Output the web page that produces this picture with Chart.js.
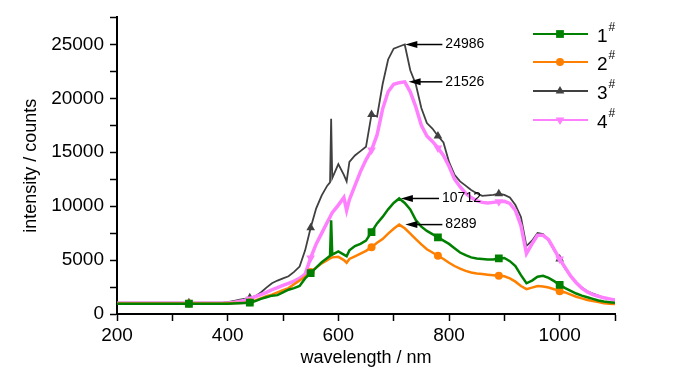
<!DOCTYPE html>
<html>
<head>
<meta charset="utf-8">
<script src="https://cdn.jsdelivr.net/npm/chart.js@4.4.0/dist/chart.umd.min.js"></script>
<style>
  html, body { margin: 0; padding: 0; background: #fff; }
</style>
</head>
<body>
<canvas id="spectrum" width="700" height="373"></canvas>
<script>
// wavelength grid (nm) and intensities (counts)
const wavelengths = [
  200, 210, 220, 230, 240, 250, 260, 270, 280, 290,
  300, 310, 320, 330, 340, 350, 360, 370, 380, 390,
  400, 410, 420, 430, 440, 450, 460, 470, 480, 490,
  500, 510, 520, 530, 540, 550, 560, 570, 580, 585,
  587, 589, 600, 610, 615, 620, 630, 640, 650, 660,
  670, 680, 690, 700, 710, 720, 730, 740, 750, 760,
  770, 780, 790, 800, 810, 820, 830, 840, 850, 860,
  870, 880, 890, 900, 910, 920, 930, 940, 950, 960,
  970, 980, 990, 1000, 1010, 1020, 1030, 1040, 1050, 1060,
  1070, 1080, 1090, 1100
];
const sample1 = [
  950, 950, 950, 950, 950, 950, 950, 950, 950, 950,
  950, 950, 950, 950, 950, 950, 950, 950, 950, 950,
  960, 980, 1000, 1020, 1050, 1200, 1400, 1550, 1700, 1750,
  2000, 2250, 2400, 2600, 3300, 3800, 4300, 4800, 5200, 5400,
  8700, 5500, 5800, 5500, 5350, 5900, 6300, 6500, 6800, 7600,
  8400, 9000, 9700, 10300, 10712, 10300, 9700, 8700, 8100, 7700,
  7400, 7100, 6800, 6500, 6100, 5700, 5450, 5250, 5150, 5100,
  5050, 5050, 5150, 5200, 4900, 4450, 3600, 2850, 3100, 3450,
  3550, 3350, 3050, 2700, 2400, 2150, 1900, 1700, 1550, 1400,
  1250, 1150, 1100, 1050
];
const sample2 = [
  980, 980, 980, 980, 980, 980, 980, 980, 980, 980,
  980, 980, 980, 980, 980, 980, 980, 980, 980, 980,
  1000, 1010, 1020, 1040, 1100, 1250, 1450, 1650, 1800, 2000,
  2200, 2400, 2750, 3100, 3450, 3900, 4300, 4700, 5000, 5150,
  5200, 5250, 5300, 5000, 4750, 5100, 5350, 5600, 5850, 6200,
  6600, 6950, 7450, 7900, 8289, 7950, 7450, 6950, 6450, 6000,
  5700, 5400, 5100, 4750, 4450, 4200, 4000, 3850, 3750, 3700,
  3650, 3600, 3550, 3500, 3300, 3000, 2600, 2300, 2450, 2600,
  2550, 2450, 2300, 2100, 2000, 1800, 1600, 1450, 1300, 1200,
  1100, 1000, 950, 920
];
const sample3 = [
  1050, 1050, 1050, 1050, 1050, 1050, 1050, 1050, 1050, 1050,
  1050, 1050, 1050, 1050, 1050, 1050, 1050, 1050, 1050, 1050,
  1100, 1200, 1300, 1400, 1500, 1650, 2000, 2450, 2850, 3100,
  3300, 3500, 3900, 4400, 5900, 8000, 9800, 11000, 11900, 12200,
  18100, 12600, 13900, 12900, 12300, 14100, 14700, 15100, 15500, 18500,
  18300, 21300, 23600, 24600, 24800, 24986, 22600, 21300, 19100, 17700,
  17200, 16500, 15900, 14100, 12900, 12300, 11900, 11500, 11200, 10950,
  11000, 11050, 11150, 11050, 10800, 10100, 9000, 6300, 6800, 7500,
  7400, 6800, 5900, 5100, 4200, 3500, 2900, 2450, 2100, 1900,
  1700, 1500, 1400, 1300
];
const sample4 = [
  1000, 1000, 1000, 1000, 1000, 1000, 1000, 1000, 1000, 1000,
  1000, 1000, 1000, 1000, 1000, 1000, 1000, 1000, 1000, 1000,
  1020, 1060, 1150, 1250, 1400, 1600, 1800, 2000, 2250, 2450,
  2650, 2850, 3050, 3300, 3700, 5200, 6500, 7500, 8500, 9000,
  9200, 9400, 10100, 10800, 9600, 10600, 11900, 13200, 14300, 15200,
  16600, 19000, 20600, 21300, 21450, 21526, 20600, 19200, 17500, 16500,
  16000, 15400, 14700, 13700, 12500, 11800, 11200, 10800, 10500, 10350,
  10300, 10350, 10400, 10450, 10250, 9600, 8200, 5600, 6500, 7300,
  7300, 6900, 6000, 5100, 4300, 3500, 2900, 2400, 2050, 1800,
  1650, 1500, 1400, 1300
];
const sampleNames = ['1', '2', '3', '4'];
const markerNm = [330, 440, 550, 660, 780, 890, 1000];

// peak labels: value, arrow tip and tail wavelength
const peakValues = [24986, 21526, 10712, 8289];
const peakTipNm = [721, 727, 713, 721];
const peakTailNm = [788, 788, 782, 788];

const FONT = '"Liberation Sans", Arial, sans-serif';

const styles = [
  { color: '#008000', point: 'rect', radius: 5.5, rotation: 0, width: 2.5, order: 1 },
  { color: '#ff8000', point: 'circle', radius: 4, rotation: 0, width: 2.5, order: 2 },
  { color: '#404040', point: 'triangle', radius: 5, rotation: 0, width: 1.8, order: 4 },
  { color: '#ff80ff', point: 'triangle', radius: 5, rotation: 180, width: 3.5, order: 3 }
];
const allSeries = [sample1, sample2, sample3, sample4];

const datasets = allSeries.map((vals, i) => ({
  label: sampleNames[i] + '#',
  data: wavelengths.map((w, j) => ({ x: w, y: vals[j] })),
  borderColor: styles[i].color,
  backgroundColor: styles[i].color,
  borderWidth: styles[i].width,
  pointStyle: styles[i].point,
  rotation: styles[i].rotation,
  pointRadius: wavelengths.map(w => markerNm.includes(w) ? styles[i].radius : 0),
  pointBorderWidth: 0,
  pointHoverRadius: 0,
  tension: 0,
  order: styles[i].order
}));

const peakArrows = {
  id: 'peakArrows',
  afterDatasetsDraw(chart) {
    const { ctx, scales: { x, y } } = chart;
    ctx.save();
    ctx.fillStyle = '#000';
    ctx.strokeStyle = '#000';
    ctx.lineWidth = 1.5;
    ctx.font = '14px ' + FONT;
    ctx.textBaseline = 'middle';
    peakValues.forEach((v, i) => {
      const py = y.getPixelForValue(v);
      const tip = x.getPixelForValue(peakTipNm[i]);
      const tail = x.getPixelForValue(peakTailNm[i]);
      ctx.beginPath();
      ctx.moveTo(tail, py);
      ctx.lineTo(tip + 8, py);
      ctx.stroke();
      ctx.beginPath();
      ctx.moveTo(tip, py);
      ctx.lineTo(tip + 12, py - 3.5);
      ctx.lineTo(tip + 12, py + 3.5);
      ctx.closePath();
      ctx.fill();
      ctx.fillText(String(v), tail + 3, py);
    });
    ctx.restore();
  }
};

// legend with superscript '#'
const sampleLegend = {
  id: 'sampleLegend',
  afterDraw(chart) {
    const ctx = chart.ctx;
    const rowY = [34, 62, 91, 120];
    ctx.save();
    sampleNames.forEach((name, i) => {
      const s = styles[i];
      const y = rowY[i];
      ctx.strokeStyle = s.color;
      ctx.fillStyle = s.color;
      ctx.lineWidth = 2;
      ctx.beginPath();
      ctx.moveTo(533, y);
      ctx.lineTo(588, y);
      ctx.stroke();
      Chart.helpers.drawPoint(ctx, { pointStyle: s.point, radius: s.radius, rotation: s.rotation, borderWidth: 0 }, 560, y);
      ctx.fillStyle = '#000';
      ctx.textBaseline = 'alphabetic';
      ctx.font = '19px ' + FONT;
      ctx.fillText(name, 597, y + 8);
      const w = ctx.measureText(name).width;
      ctx.font = '12px ' + FONT;
      ctx.fillText('#', 597 + w + 1, y - 3);
    });
    ctx.restore();
  }
};

new Chart(document.getElementById('spectrum'), {
  type: 'line',
  data: { datasets },
  options: {
    responsive: false,
    animation: false,
    devicePixelRatio: 1,
    layout: { padding: { top: 15, right: 85, left: 0, bottom: 0 } },
    plugins: { legend: { display: false }, tooltip: { enabled: false } },
    scales: {
      x: {
        type: 'linear',
        min: 200,
        max: 1100,
        afterFit: s => { s.height = 59; },
        border: { display: true, color: '#000', width: 2 },
        grid: { drawOnChartArea: false, drawTicks: true, tickLength: 7, tickColor: '#000', tickWidth: 1.5 },
        ticks: {
          stepSize: 100,
          autoSkip: false,
          maxRotation: 0,
          color: '#000',
          padding: 3,
          font: { family: FONT, size: 19 },
          callback: v => (v % 200 === 0 ? v : '')
        },
        title: {
          display: true,
          text: 'wavelength / nm',
          color: '#000',
          font: { family: FONT, size: 18 },
          padding: { top: 0, bottom: 4 }
        }
      },
      y: {
        min: 0,
        max: 27500,
        afterFit: s => { s.width = 117; },
        border: { display: true, color: '#000', width: 2 },
        grid: { drawOnChartArea: false, drawTicks: true, tickLength: 7, tickColor: '#000', tickWidth: 1.5 },
        ticks: {
          stepSize: 2500,
          autoSkip: false,
          color: '#000',
          padding: 6,
          font: { family: FONT, size: 19 },
          callback: v => (v % 5000 === 0 ? v : '')
        },
        title: {
          display: true,
          text: 'intensity / counts',
          color: '#000',
          font: { family: FONT, size: 18 },
          padding: { top: 20, bottom: 0 }
        }
      }
    }
  },
  plugins: [peakArrows, sampleLegend]
});
</script>
</body>
</html>
